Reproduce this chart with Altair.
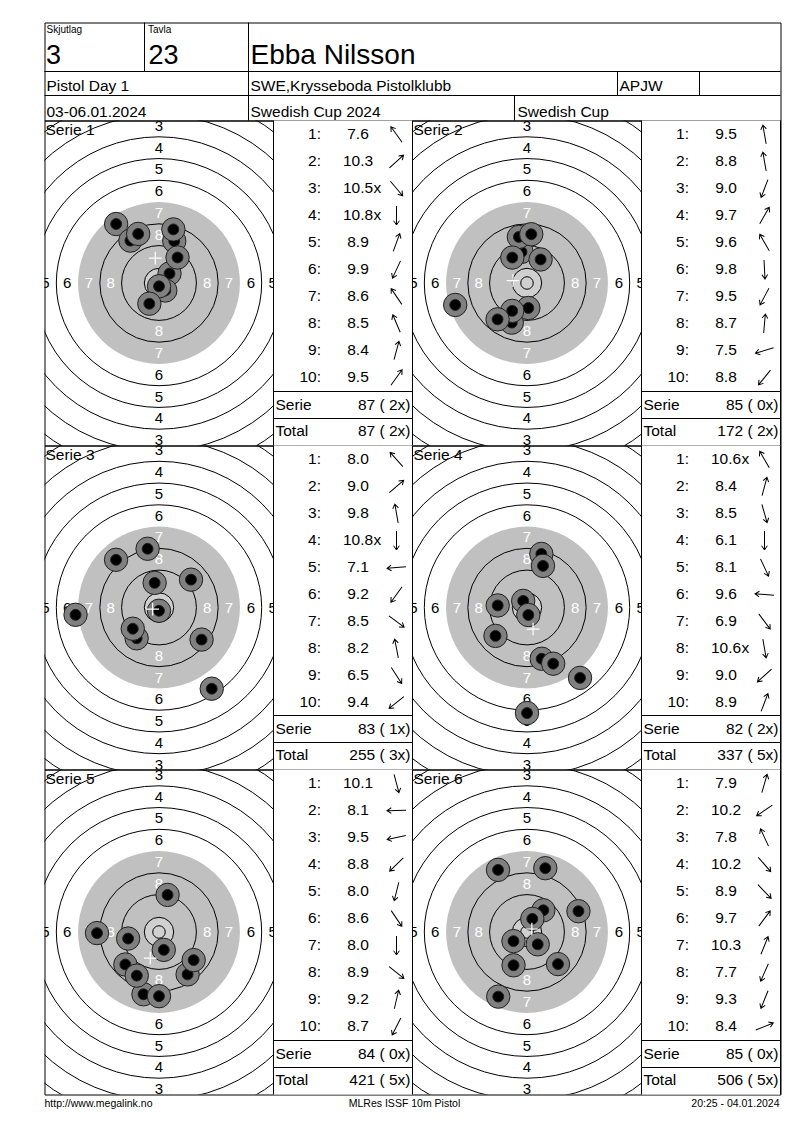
import math
import altair as alt
import pandas as pd

# ---------------- values read from the scorecard ----------------
HEAD_SMALL = ["Skjutlag", "Tavla"]
HEAD_BIG = ["3", "23"]
SHOOTER = ["Ebba Nilsson"]
ROW2 = ["Pistol Day 1", "SWE,Krysseboda Pistolklubb", "APJW"]
ROW3 = ["03-06.01.2024", "Swedish Cup 2024", "Swedish Cup"]
FOOTER = ["http://www.megalink.no", "MLRes ISSF 10m Pistol", "20:25 - 04.01.2024"]

SERIES = ["Serie 1", "Serie 2", "Serie 3", "Serie 4", "Serie 5", "Serie 6"]
SHOTS = [
    ["7.6", "10.3", "10.5x", "10.8x", "8.9", "9.9", "8.6", "8.5", "8.4", "9.5"],
    ["9.5", "8.8", "9.0", "9.7", "9.6", "9.8", "9.5", "8.7", "7.5", "8.8"],
    ["8.0", "9.0", "9.8", "10.8x", "7.1", "9.2", "8.5", "8.2", "6.5", "9.4"],
    ["10.6x", "8.4", "8.5", "6.1", "8.1", "9.6", "6.9", "10.6x", "9.0", "8.9"],
    ["10.1", "8.1", "9.5", "8.8", "8.0", "8.6", "8.0", "8.9", "9.2", "8.7"],
    ["7.9", "10.2", "7.8", "10.2", "8.9", "9.7", "10.3", "7.7", "9.3", "8.4"],
]
# direction of each shot, degrees clockwise from 12 o'clock
DIRECTION = [
    [324, 48, 140, 180, 20, 205, 326, 337, 15, 36],
    [350, 350, 201, 30, 330, 177, 208, 5, 253, 219],
    [318, 49, 350, 180, 265, 216, 127, 349, 147, 231],
    [330, 15, 164, 180, 155, 274, 143, 170, 228, 21],
    [165, 269, 258, 226, 194, 146, 180, 129, 13, 207],
    [16, 236, 335, 139, 136, 37, 22, 204, 202, 68],
]
SERIE_SUM = ["87 ( 2x)", "85 ( 0x)", "83 ( 1x)", "82 ( 2x)", "84 ( 0x)", "85 ( 0x)"]
TOTAL_SUM = ["87 ( 2x)", "172 ( 2x)", "255 ( 3x)", "337 ( 5x)", "421 ( 5x)", "506 ( 5x)"]
RING_LABELS = [3, 4, 5, 6, 7, 8]

# ---------------- target geometry (10 m pistol, mm) ----------------
RING_WIDTH = 8.0
R10 = 5.4
INNER_TEN = 2.3
R_BLACK = 29.75
SHOT_HALO = 4.3
SHOT_CORE = 2.0


def ring_r(n):
    return 5.75 + (10 - n) * RING_WIDTH


# ---------------- layout / style ----------------
FONT = "Liberation Sans"
K = 2.72          # px per mm on the targets
TW, LW = 229, 139
W_ALL = 2 * TW + 2 * LW
HEAD_H = 98
ROW_H = [325, 324, 325]
FOOT_H = 20
GRAY = "#c0c0c0"
TEN_FILL = "#d0d0d0"
SHOT_GRAY = "#808080"
ARROW = "M0,1L0,-1M-0.3,-0.55L0,-1L0.3,-0.55"
CROSS = "M-1,0L1,0M0,-1L0,1"


def lin(domain, rng):
    return alt.Scale(domain=list(domain), range=list(rng), nice=False, zero=False)


# ---------------- header ----------------
hxs, hys = lin([0, W_ALL], [0, W_ALL]), lin([0, HEAD_H], [0, HEAD_H])
hlines = pd.DataFrame({"x": [0, 0], "x2": [W_ALL, W_ALL], "y": [49, 73]})
vlines = pd.DataFrame({"x": [100, 204, 573, 655, 470],
                       "y": [0, 0, 49, 49, 73],
                       "y2": [49, HEAD_H, 73, 73, HEAD_H]})
htext = pd.DataFrame({
    "t": HEAD_SMALL + HEAD_BIG + SHOOTER + ROW2 + ROW3,
    "x": [2, 103.5, 1.5, 104, 206, 2, 206, 575, 2, 206, 473],
    "y": [10.5, 10.5, 41, 41, 41, 68, 68, 68, 94, 94, 94],
    "s": [10, 10, 27, 27, 28, 15.5, 15.5, 15.5, 15.5, 15.5, 15.5],
})
header = alt.layer(
    alt.Chart(hlines).mark_rule(color="black", strokeWidth=1).encode(
        x=alt.X("x:Q", scale=hxs, axis=None), x2="x2:Q",
        y=alt.Y("y:Q", scale=hys, axis=None)),
    alt.Chart(vlines).mark_rule(color="black", strokeWidth=1).encode(
        x=alt.X("x:Q", scale=hxs, axis=None),
        y=alt.Y("y:Q", scale=hys, axis=None), y2="y2:Q"),
    alt.Chart(htext).mark_text(font=FONT, align="left", baseline="alphabetic", color="black").encode(
        x=alt.X("x:Q", scale=hxs, axis=None),
        y=alt.Y("y:Q", scale=hys, axis=None),
        text="t:N", size=alt.Size("s:Q", scale=None)),
).properties(width=W_ALL, height=HEAD_H)


# ---------------- one target (placed at x0 inside its row) ----------------
def target_layer(i, H, x0):
    W = TW
    hx, hy = W / 2 / K, H / 2 / K
    xs = lin([-hx, hx], [x0, x0 + W])
    ys = lin([-hy, hy], [H, 0])
    ss = alt.Scale(type="linear", domain=[0, 40000], range=[0, 40000 * K * K], zero=True, nice=False)
    X = alt.X("x:Q", scale=xs, axis=None)
    Y = alt.Y("y:Q", scale=ys, axis=None)
    S = alt.Size("d2:Q", scale=ss, legend=None)

    disk_df = pd.DataFrame({"x": [0, 0], "y": [0, 0],
                            "d2": [(2 * R_BLACK) ** 2, (2 * R10) ** 2],
                            "col": [GRAY, TEN_FILL]})
    disk = alt.Chart(disk_df).mark_point(shape="circle", filled=True, opacity=1,
                                         strokeWidth=0, clip=True).encode(
        x=X, y=Y, size=S, fill=alt.Fill("col:N", scale=None))

    radii = [ring_r(n) for n in (2, 3, 4, 5, 6, 8, 9)] + [R10, INNER_TEN]
    ring_df = pd.DataFrame({"x": [0] * len(radii), "y": [0] * len(radii),
                            "d2": [(2 * r) ** 2 for r in radii]})
    rings = alt.Chart(ring_df).mark_point(shape="circle", filled=False, opacity=1,
                                          stroke="black", strokeWidth=1, clip=True).encode(
        x=X, y=Y, size=S)

    lab = []
    for n in RING_LABELS:
        rr = ring_r(n) - RING_WIDTH / 2
        for dx, dy in ((0, 1), (0, -1), (1, 0), (-1, 0)):
            lab.append({"x": dx * rr, "y": dy * rr, "t": str(n),
                        "col": "white" if n >= 7 else "black"})
    labels = alt.Chart(pd.DataFrame(lab)).mark_text(font=FONT, fontSize=15, align="center",
                                                    baseline="middle", clip=True).encode(
        x=X, y=Y, text="t:N", color=alt.Color("col:N", scale=None))

    title = alt.Chart(pd.DataFrame({"t": [SERIES[i]]})).mark_text(
        font=FONT, fontSize=15.5, align="left", baseline="alphabetic", color="black").encode(
        x=alt.value(x0 + 1), y=alt.value(14), text="t:N")

    recs = []
    for j, (s, dg) in enumerate(zip(SHOTS[i], DIRECTION[i])):
        v = float(s.rstrip("x"))
        d = (10.95 - v) * RING_WIDTH
        a = math.radians(dg)
        x, y = d * math.sin(a), d * math.cos(a)
        recs.append({"x": x, "y": y, "d2": (2 * SHOT_HALO) ** 2, "col": SHOT_GRAY, "seq": 2 * j})
        recs.append({"x": x, "y": y, "d2": (2 * SHOT_CORE) ** 2, "col": "#000000", "seq": 2 * j + 1})
    shot_df = pd.DataFrame(recs)
    shots = alt.Chart(shot_df).mark_point(shape="circle", filled=True, opacity=1,
                                          stroke="#202020", strokeWidth=1, clip=True).encode(
        x=X, y=Y, size=S, fill=alt.Fill("col:N", scale=None), order=alt.Order("seq:Q"))

    mpi = alt.Chart(shot_df).transform_aggregate(mx="mean(x)", my="mean(y)").mark_point(
        shape=CROSS, filled=False, opacity=1, stroke="white", strokeWidth=1.2, size=160).encode(
        x=alt.X("mx:Q", scale=xs, axis=None), y=alt.Y("my:Q", scale=ys, axis=None))

    return alt.layer(disk, rings, labels, title, shots, mpi)


# ---------------- one shot list (placed at x0 inside its row) ----------------
def list_layer(i, H, x0):
    W = LW
    xs, ys = lin([0, W], [x0, x0 + W]), lin([0, H], [0, H])
    Yb = alt.Y("yb:Q", scale=ys, axis=None)
    recs = []
    for j, (s, dg) in enumerate(zip(SHOTS[i], DIRECTION[i])):
        yb = 18 + 27 * j
        recs.append({"n": f"{j + 1}:", "v": s.rstrip("x"), "xf": "x" if s.endswith("x") else "",
                     "dir": dg, "yb": yb, "ya": yb - 4})
    df = pd.DataFrame(recs)
    mask = alt.Chart(pd.DataFrame({"x": [0], "x2": [W], "y": [0], "y2": [H]})).mark_rect(
        color="white", opacity=1).encode(
        x=alt.X("x:Q", scale=xs, axis=None), x2="x2:Q",
        y=alt.Y("y:Q", scale=ys, axis=None), y2="y2:Q")
    base = alt.Chart(df)
    idx = base.mark_text(font=FONT, fontSize=15.5, align="right", baseline="alphabetic",
                         color="black").encode(x=alt.value(x0 + 47.5), y=Yb, text="n:N")
    val = base.mark_text(font=FONT, fontSize=15.5, align="center", baseline="alphabetic",
                         color="black").encode(x=alt.value(x0 + 84.5), y=Yb, text="v:N")
    xfl = base.mark_text(font=FONT, fontSize=15.5, align="left", baseline="alphabetic",
                         color="black").encode(x=alt.value(x0 + 100), y=Yb, text="xf:N")
    arr = base.mark_point(shape=ARROW, filled=False, opacity=1, stroke="black",
                          strokeWidth=1, size=361).encode(
        x=alt.value(x0 + 123), y=alt.Y("ya:Q", scale=ys, axis=None),
        angle=alt.Angle("dir:Q", scale=None))
    hr = alt.Chart(pd.DataFrame({"y": [H - 54, H - 27]})).mark_rule(
        color="black", strokeWidth=1).encode(
        x=alt.X("a:Q", scale=xs, axis=None), x2="b:Q",
        y=alt.Y("y:Q", scale=ys, axis=None)).transform_calculate(a="0", b=str(W))
    vr = alt.Chart(pd.DataFrame({"x": [0, W]})).mark_rule(color="black", strokeWidth=1).encode(
        x=alt.X("x:Q", scale=xs, axis=None),
        y=alt.Y("a:Q", scale=ys, axis=None), y2="b:Q").transform_calculate(a="0", b=str(H))
    summ = alt.Chart(pd.DataFrame({"lab": ["Serie", "Total"],
                                   "val": [SERIE_SUM[i], TOTAL_SUM[i]],
                                   "yb": [H - 36, H - 10]}))
    slab = summ.mark_text(font=FONT, fontSize=15.5, align="left", baseline="alphabetic",
                          color="black").encode(x=alt.value(x0 + 2), y=Yb, text="lab:N")
    sval = summ.mark_text(font=FONT, fontSize=15.5, align="right", baseline="alphabetic",
                          color="black").encode(x=alt.value(x0 + 137), y=Yb, text="val:N")
    return alt.layer(mask, idx, val, xfl, arr, hr, vr, slab, sval)


rows = []
for r in range(3):
    H = ROW_H[r]
    a, b = 2 * r, 2 * r + 1
    row = alt.layer(
        target_layer(a, H, 0),
        target_layer(b, H, TW + LW),
        list_layer(a, H, TW),
        list_layer(b, H, 2 * TW + LW),
    ).resolve_scale(x="independent", y="independent").properties(width=W_ALL, height=H)
    rows.append(row)

# ---------------- footer ----------------
fdf = pd.DataFrame({"t": FOOTER})
footer = alt.layer(
    alt.Chart(fdf).transform_filter(alt.datum.t == FOOTER[0]).mark_text(
        font=FONT, fontSize=10.5, align="left", baseline="alphabetic", color="black").encode(
        x=alt.value(0), y=alt.value(12), text="t:N"),
    alt.Chart(fdf).transform_filter(alt.datum.t == FOOTER[1]).mark_text(
        font=FONT, fontSize=10.5, align="center", baseline="alphabetic", color="black").encode(
        x=alt.value(360), y=alt.value(12), text="t:N"),
    alt.Chart(fdf).transform_filter(alt.datum.t == FOOTER[2]).mark_text(
        font=FONT, fontSize=10.5, align="right", baseline="alphabetic", color="black").encode(
        x=alt.value(735), y=alt.value(12), text="t:N"),
).properties(width=W_ALL, height=FOOT_H, view=alt.ViewBackground(strokeOpacity=0))

chart = alt.vconcat(header, *rows, footer, spacing=0, bounds="flush").properties(
    padding={"left": 35.5, "top": 13.5, "right": 4, "bottom": 4}
).configure_view(stroke="black", strokeWidth=1)

chart.save("out.html", embed_options={"renderer": "svg", "actions": False})
